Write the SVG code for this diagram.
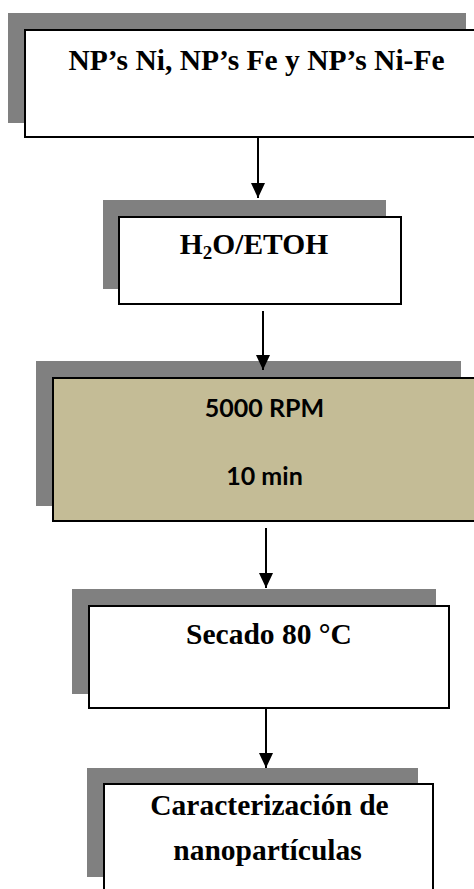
<svg xmlns="http://www.w3.org/2000/svg" width="474" height="889" viewBox="0 0 474 889">
<style>
.shadow{fill:#808080}
.box{fill:#ffffff;stroke:#000;stroke-width:2}
.tan{fill:#C4BC96;stroke:#000;stroke-width:2}
.t{font-family:"Liberation Serif","Times New Roman",serif;font-weight:bold;font-size:29.5px;fill:#000;text-anchor:middle}
.c{font-family:Lato,"Liberation Sans",sans-serif;font-weight:bold;font-size:25px;fill:#000;text-anchor:middle}
.conn{stroke:#000;stroke-width:2;fill:none}
</style>
<defs>
<marker id="ah" markerUnits="userSpaceOnUse" markerWidth="15" markerHeight="14" refX="15" refY="7" orient="auto" viewBox="0 0 15 14">
<path d="M0,0 L15,7 L0,14 Z" fill="#000"/>
</marker>
</defs>
<rect width="474" height="889" fill="#fff"/>
<g id="n1">
<rect class="shadow" x="8" y="13" width="458" height="110"/>
<rect class="box" x="25" y="30" width="460" height="107"/>
<text class="t" x="256.5" y="70">NP’s Ni, NP’s Fe y NP’s Ni-Fe</text>
</g>
<g id="n2">
<rect class="shadow" x="103" y="200" width="283" height="89"/>
<rect class="box" x="119" y="217" width="282" height="87"/>
<text class="t" x="254" y="254">H<tspan font-size="19" dy="5">2</tspan><tspan dy="-5">O/ETOH</tspan></text>
</g>
<g id="n3">
<rect class="shadow" x="36" y="361" width="425" height="145"/>
<rect class="tan" x="53" y="378" width="430" height="143"/>
<text class="c" x="264.5" y="417">5000 RPM</text>
<text class="c" x="264.5" y="485">10 min</text>
</g>
<g id="n4">
<rect class="shadow" x="72" y="589" width="364" height="105"/>
<rect class="box" x="89" y="606" width="360" height="102"/>
<text class="t" x="269" y="644">Secado 80 °C</text>
</g>
<g id="n5">
<rect class="shadow" x="87" y="768" width="331" height="109"/>
<rect class="box" x="104" y="784" width="329" height="115"/>
<text class="t" x="269.5" y="815">Caracterización de</text>
<text class="t" x="267.5" y="860">nanopartículas</text>
</g>
<g id="connectors">
<line class="conn" x1="258" y1="137" x2="258" y2="198" marker-end="url(#ah)"/>
<line class="conn" x1="263" y1="311" x2="263" y2="370" marker-end="url(#ah)"/>
<line class="conn" x1="266" y1="528" x2="266" y2="588" marker-end="url(#ah)"/>
<line class="conn" x1="266" y1="708" x2="266" y2="768" marker-end="url(#ah)"/>
</g>
</svg>
